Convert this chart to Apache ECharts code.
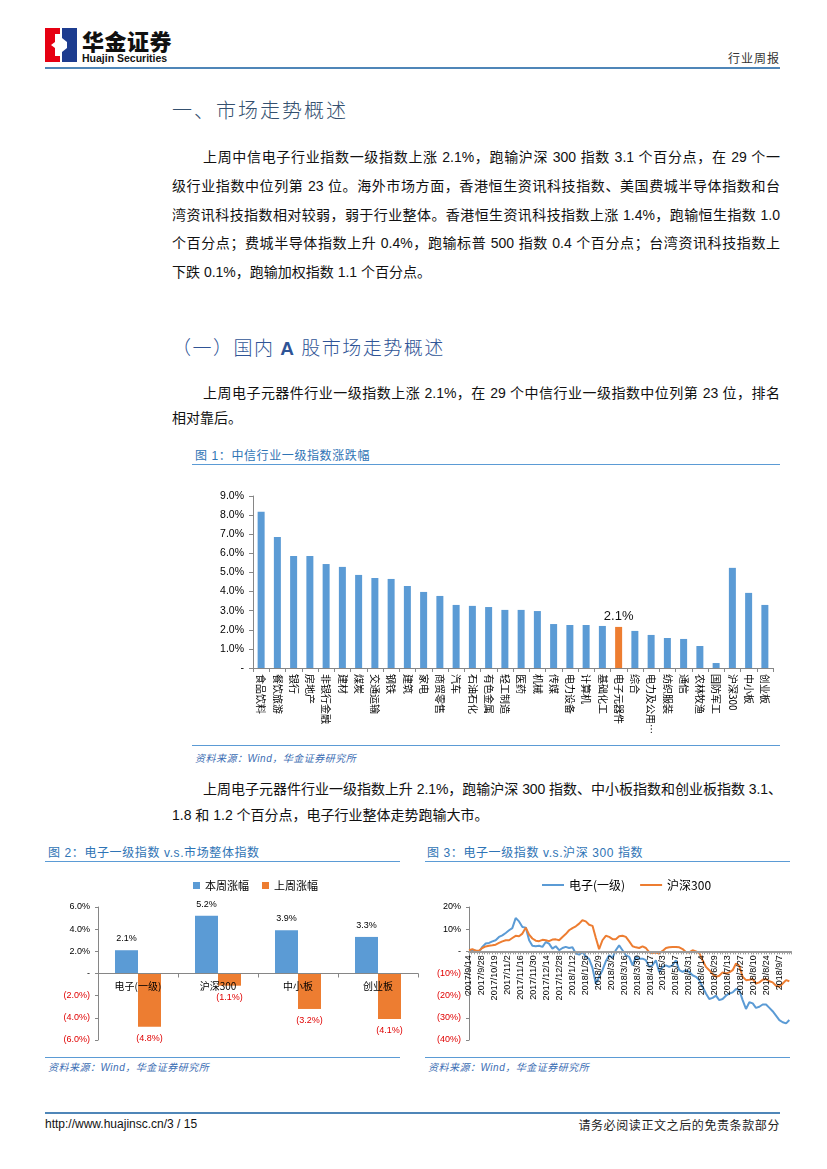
<!DOCTYPE html>
<html><head><meta charset="utf-8">
<script src="https://cdn.jsdelivr.net/npm/echarts@6/dist/echarts.min.js"></script>
<style>
body{margin:0;background:#fff;}
#page{position:relative;width:827px;height:1169px;overflow:hidden;font-family:"Liberation Sans","Noto Sans CJK SC",sans-serif;color:#111;background:#fff;}
.abs{position:absolute;white-space:nowrap;}
.ln{position:absolute;font-size:14px;height:20px;line-height:20px;text-align:justify;text-align-last:justify;color:#111;}
.ln.last{text-align:left;text-align-last:left;}
.ft{position:absolute;font-size:12px;color:#2F74B5;letter-spacing:0.6px;white-space:nowrap;}
.src{position:absolute;font-size:10px;color:#3B6DB3;font-style:italic;white-space:nowrap;letter-spacing:0.5px;}
.rule{position:absolute;height:0;border-top:1.5px solid #5B9BD5;}
.chart{position:absolute;}
</style></head>
<body><div id="page">

<!-- header -->
<svg class="abs" style="left:45px;top:28px" width="32" height="34" viewBox="0 0 32 34">
  <rect x="0" y="0" width="15" height="34" fill="#E60012"/>
  <rect x="17" y="0" width="15" height="34" fill="#1D3C8F"/>
  <polygon points="10,6 15,6 15,28 10,28 10,20 6,17 10,14" fill="#fff"/>
  <polygon points="17,10 22,14 22,20 17,24" fill="#fff"/>
</svg>
<div class="abs" style="left:82px;top:28px;height:24px;line-height:24px;font-size:22px;font-weight:900;font-family:'Noto Sans CJK SC';color:#111;letter-spacing:0.5px">华金证券</div>
<div class="abs" style="left:82px;top:52px;height:12px;line-height:12px;font-size:10.5px;font-weight:bold;color:#111">Huajin Securities</div>
<div class="abs" style="right:47px;top:49px;font-size:12px;color:#333;font-family:'Noto Sans CJK SC';letter-spacing:1px">行业周报</div>
<div class="rule" style="left:45px;top:67px;width:735px;border-top:2px solid #4F86B8"></div>

<!-- section 1 -->
<div class="abs" style="left:172px;top:95px;font-size:20px;letter-spacing:2px;color:#34506F;font-family:'Noto Sans CJK SC';font-weight:300">一、市场走势概述</div>

<div class="ln" style="left:203px;top:147px;width:577px">上周中信电子行业指数一级指数上涨 2.1%，跑输沪深 300 指数 3.1 个百分点，在 29 个一</div>
<div class="ln" style="left:172px;top:176px;width:608px">级行业指数中位列第 23 位。海外市场方面，香港恒生资讯科技指数、美国费城半导体指数和台</div>
<div class="ln" style="left:172px;top:205px;width:608px">湾资讯科技指数相对较弱，弱于行业整体。香港恒生资讯科技指数上涨 1.4%，跑输恒生指数 1.0</div>
<div class="ln" style="left:172px;top:233px;width:608px">个百分点；费城半导体指数上升 0.4%，跑输标普 500 指数 0.4 个百分点；台湾资讯科技指数上</div>
<div class="ln last" style="left:172px;top:262px;width:608px">下跌 0.1%，跑输加权指数 1.1 个百分点。</div>

<div class="abs" style="left:172px;top:333px;font-size:19px;letter-spacing:1.5px;color:#2F5496;font-family:'Noto Sans CJK SC';font-weight:300">（一）国内 <span style="font-family:'Liberation Sans';font-weight:bold">A</span> 股市场走势概述</div>

<div class="ln" style="left:203px;top:383px;width:577px">上周电子元器件行业一级指数上涨 2.1%，在 29 个中信行业一级指数中位列第 23 位，排名</div>
<div class="ln last" style="left:172px;top:408px;width:608px">相对靠后。</div>

<!-- figure 1 -->
<div class="ft" style="left:195px;top:446px">图 1：中信行业一级指数涨跌幅</div>
<div class="rule" style="left:192px;top:464px;width:588px"></div>
<div id="c1" class="chart" style="left:190px;top:470px;width:600px;height:275px"></div>
<div class="rule" style="left:192px;top:745px;width:588px"></div>
<div class="src" style="left:195px;top:750px">资料来源：Wind，华金证券研究所</div>

<div class="ln" style="left:203px;top:779px;width:579px">上周电子元器件行业一级指数上升 2.1%，跑输沪深 300 指数、中小板指数和创业板指数 3.1、</div>
<div class="ln last" style="left:172px;top:805px;width:608px">1.8 和 1.2 个百分点，电子行业整体走势跑输大市。</div>

<!-- figure 2 & 3 -->
<div class="ft" style="left:48px;top:843px">图 2：电子一级指数 v.s.市场整体指数</div>
<div class="rule" style="left:45px;top:861px;width:355px"></div>
<div class="ft" style="left:427px;top:843px">图 3：电子一级指数 v.s.沪深 300 指数</div>
<div class="rule" style="left:425px;top:861px;width:365px"></div>
<div id="c2" class="chart" style="left:40px;top:865px;width:385px;height:192px"></div>
<div id="c3" class="chart" style="left:425px;top:865px;width:370px;height:192px"></div>
<div class="rule" style="left:45px;top:1057px;width:355px"></div>
<div class="rule" style="left:425px;top:1057px;width:365px"></div>
<div class="src" style="left:48px;top:1059px">资料来源：Wind，华金证券研究所</div>
<div class="src" style="left:428px;top:1059px">资料来源：Wind，华金证券研究所</div>

<!-- footer -->
<div class="rule" style="left:45px;top:1112px;width:735px;border-top:2px solid #4F86B8"></div>
<div class="abs" style="left:45px;top:1117px;font-size:12px;color:#111">http://www.huajinsc.cn/3 / 15</div>
<div class="abs" style="right:47px;top:1116px;font-size:12px;color:#222;letter-spacing:0.6px;font-family:'Noto Sans CJK SC'">请务必阅读正文之后的免责条款部分</div>

</div>
<script>
// fit each justified line on one row
document.querySelectorAll('.ln').forEach(el => {
  el.style.whiteSpace = 'nowrap';
  let ls = 0;
  while (el.scrollWidth > el.clientWidth && ls > -2) { ls -= 0.1; el.style.letterSpacing = ls.toFixed(2) + 'px'; }
  el.style.whiteSpace = 'normal';
});

// ---------- Figure 1 data ----------
const industries = ['食品饮料','餐饮旅游','银行','房地产','非银行金融','建材','煤炭','交通运输','钢铁','建筑','家电','商贸零售','汽车','石油石化','有色金属','轻工制造','医药','机械','传媒','电力设备','计算机','基础化工','电子元器件','综合','电力及公用事业','纺织服装','通信','农林牧渔','国防军工','沪深300','中小板','创业板'];
const industryChange = [8.17,6.86,5.86,5.86,5.44,5.29,4.87,4.71,4.66,4.29,3.98,3.77,3.30,3.25,3.19,3.04,3.04,2.98,2.30,2.25,2.25,2.20,2.15,1.94,1.73,1.57,1.52,1.15,0.26,5.24,3.93,3.30];
const highlightIndustry = '电子元器件';
const fig1Ticks = [0,1,2,3,4,5,6,7,8,9];

// ---------- Figure 2 data ----------
const marketCats = ['电子(一级)','沪深300','中小板','创业板'];
const thisWeek = [2.1,5.2,3.9,3.3];
const lastWeek = [-4.8,-1.1,-3.2,-4.1];

// ---------- Figure 3 data ----------
const dateLabels = ['2017/9/14','2017/9/28','2017/10/19','2017/11/2','2017/11/16','2017/11/30','2017/12/14','2017/12/28','2018/1/12','2018/1/26','2018/2/9','2018/3/2','2018/3/16','2018/3/30','2018/4/17','2018/5/3','2018/5/17','2018/5/31','2018/6/14','2018/6/29','2018/7/13','2018/7/27','2018/8/10','2018/8/24','2018/9/7'];
const tradingDay = [0,2.6,5.2,7.7,10.3,12.9,15.5,18.1,20.6,23.2,25.8,28.4,31.0,33.5,36.1,38.7,41.3,43.9,46.5,49.0,51.6,54.2,56.8,59.4,61.9,64.5,67.1,69.7,72.3,74.8,77.4,80.0,82.6,85.2,87.7,90.3,92.9,95.5,98.1,100.6,103.2,105.8,108.4,111.0,113.5,116.1,118.7,121.3,123.9,126.5,129.0,131.6,134.2,136.8,139.4,141.9,144.5,147.1,149.7,152.3,154.8,157.4,160.0,162.6,165.2,167.7,170.3,172.9,175.5,178.1,180.6,183.2,185.8,188.4,191.0,193.5,196.1,198.7,201.3,203.9,206.5,209.0,211.6,214.2,216.8,219.4,221.9,224.5,227.1,229.7,232.3,234.8,237.4,240.0,242.6,245.2,247.7];
const elecIndex = [0.5,0.6,0.3,-0.3,2.0,3.5,3.8,4.5,5.0,6.5,7.2,8.3,9.5,10.5,15.0,13.5,11.0,10.7,5.0,2.5,2.3,2.5,2.0,4.2,3.5,1.2,2.3,0.5,1.5,2.0,1.5,1.8,-1.0,-1.5,-0.3,-2.3,-3.5,-7.5,-14.6,-11.5,-8.5,-4.5,-1.8,-3.0,0.5,2.7,0.5,-1.8,-2.5,-6.3,-2.5,-3.3,-3.3,-4.0,-7.0,-6.3,-4.0,-9.3,-7.0,-6.3,-7.0,-6.3,-4.0,-8.5,-9.3,-8.5,-9.3,-10.8,-11.5,-13.0,-16.0,-19.0,-21.5,-21.0,-20.0,-22.0,-21.5,-20.0,-19.0,-18.5,-17.0,-17.5,-22.0,-26.0,-23.0,-23.5,-25.5,-25.0,-24.0,-24.0,-25.5,-27.0,-29.0,-31.0,-32.0,-32.5,-31.0];
const hs300Index = [0.5,1.0,0.3,0.3,1.5,2.2,2.5,2.7,3.0,3.8,4.5,5.0,5.0,6.0,7.0,6.8,8.0,10.7,7.5,5.8,4.8,4.6,5.2,5.0,4.6,5.3,5.4,5.0,6.5,7.8,9.5,10.5,11.3,12.5,14.0,13.5,12.0,11.5,6.0,1.0,5.0,7.0,6.5,5.5,5.5,6.8,7.0,6.5,4.5,2.3,1.8,1.5,2.2,1.5,-0.5,-0.8,-0.5,-1.0,0.2,1.5,1.8,2.0,2.0,1.8,1.0,-0.3,-0.5,0.5,0.0,-0.8,-4.0,-7.0,-8.5,-10.3,-11.5,-11.0,-9.5,-10.0,-9.5,-8.5,-5.5,-6.5,-11.5,-13.0,-12.8,-12.5,-14.5,-14.0,-12.8,-12.5,-13.5,-14.0,-15.5,-16.0,-14.5,-13.0,-13.5];

const BLUE = '#5B9BD5', ORANGE = '#ED7D31', AXIS = '#868686';
const LATIN = 'Arial, Liberation Sans, sans-serif', CJK = 'Noto Sans CJK SC';
const pctNeg = v => v === 0 ? '-' : (v < 0 ? '(' + (-v).toFixed(1) + '%)' : v.toFixed(1) + '%');

// ---------- Chart 1 ----------
const c1 = echarts.init(document.getElementById('c1'));
c1.setOption({
  animation: false,
  grid: {left: 63, right: 17, top: 26, bottom: 77, containLabel: false, outerBoundsMode: 'none'},
  xAxis: {
    type: 'category', data: industries,
    axisLine: {show: true, lineStyle: {color: AXIS, width: 1}},
    axisTick: {show: true, length: 4, interval: 0, lineStyle: {color: AXIS}},
    axisLabel: {interval: 0, rotate: -90, fontSize: 10, color: '#000', fontFamily: CJK, margin: 6,
      width: 62, overflow: 'truncate', ellipsis: '…'},
    splitLine: {show: false}
  },
  yAxis: {
    type: 'value', min: fig1Ticks[0], max: fig1Ticks[fig1Ticks.length - 1], interval: 1,
    axisLine: {show: true, lineStyle: {color: AXIS}},
    axisTick: {show: true, length: 4, lineStyle: {color: AXIS}},
    axisLabel: {fontSize: 10.5, color: '#000', fontFamily: LATIN, margin: 9,
      formatter: v => v === 0 ? '-' : v.toFixed(1) + '%'},
    splitLine: {show: false}
  },
  series: [{
    type: 'bar', barWidth: 7,
    data: industryChange.map((v, i) => ({
      value: v,
      itemStyle: {color: industries[i] === highlightIndustry ? ORANGE : BLUE},
      label: {show: industries[i] === highlightIndustry}
    })),
    label: {position: 'top', distance: 4, fontSize: 13, color: '#111', fontFamily: LATIN,
      formatter: p => (Math.floor(p.value * 10) / 10).toFixed(1) + '%'}
  }]
});

// ---------- Chart 2 ----------
const c2 = echarts.init(document.getElementById('c2'));
const c2Top = 42, c2H = 133, c2Bottom = 192 - c2Top - c2H;
c2.setOption({
  animation: false,
  legend: {left: 148, top: 10, icon: 'rect', itemWidth: 7, itemHeight: 7, itemGap: 13,
    textStyle: {fontSize: 11, color: '#000', fontFamily: CJK}, data: ['本周涨幅', '上周涨幅']},
  grid: {left: 58, right: 7, top: c2Top, bottom: c2Bottom, containLabel: false, outerBoundsMode: 'none'},
  xAxis: {
    type: 'category', data: marketCats, z: 10,
    offset: -c2H / 2,
    axisLine: {show: true, onZero: false, lineStyle: {color: AXIS}},
    axisTick: {show: true, length: 4, lineStyle: {color: AXIS}},
    axisLabel: {fontSize: 10, color: '#000', fontFamily: CJK, margin: 8}
  },
  yAxis: {
    type: 'value', min: -6, max: 6, interval: 2,
    axisLine: {show: true, lineStyle: {color: AXIS}},
    axisTick: {show: true, length: 3, lineStyle: {color: AXIS}},
    axisLabel: {fontSize: 9, fontFamily: LATIN, margin: 8,
      color: v => (Number(v) < 0 ? '#E00000' : '#000'), formatter: pctNeg},
    splitLine: {show: false}
  },
  series: [
    {name: '本周涨幅', type: 'bar', barWidth: 23, barGap: '0%', data: thisWeek,
      itemStyle: {color: BLUE},
      label: {show: true, position: 'top', distance: 7, fontSize: 9, color: '#000', fontFamily: LATIN,
        formatter: p => p.value.toFixed(1) + '%'}},
    {name: '上周涨幅', type: 'bar', barWidth: 23, barGap: '0%', data: lastWeek,
      itemStyle: {color: ORANGE},
      label: {show: true, position: 'bottom', distance: 7, fontSize: 9, color: '#E00000', fontFamily: LATIN,
        formatter: p => '(' + (-p.value).toFixed(1) + '%)'}}
  ]
});

// ---------- Chart 3 ----------
const c3 = echarts.init(document.getElementById('c3'));
const lastDay = 249;
const c3Top = 42, c3H = 133, c3Bottom = 192 - c3Top - c3H;
const c3Min = -40, c3Max = 20;
c3.setOption({
  animation: false,
  legend: {left: 112, top: 9, icon: 'rect', itemWidth: 22, itemHeight: 2, itemGap: 15,
    textStyle: {fontSize: 12, color: '#000', fontFamily: CJK}, data: ['电子(一级)', '沪深300']},
  grid: {left: 44, right: 4, top: c3Top, bottom: c3Bottom, containLabel: false, outerBoundsMode: 'none'},
  xAxis: {
    type: 'value', min: 0, max: lastDay, interval: 10, z: 10,
    offset: -c3H * (0 - c3Min) / (c3Max - c3Min),
    axisLine: {show: true, onZero: false, lineStyle: {color: '#9A9A9A', width: 2}},
    axisTick: {show: true, length: 3, lineStyle: {color: '#9A9A9A'}},
    minorTick: {show: true, splitNumber: 5, length: 3, lineStyle: {color: '#9A9A9A'}},
    axisLabel: {rotate: 90, fontSize: 9, color: '#000', fontFamily: LATIN, margin: 4,
      showMaxLabel: false,
      formatter: v => (v % 10 === 0 && dateLabels[v / 10]) ? dateLabels[v / 10] : ''},
    splitLine: {show: false}
  },
  yAxis: {
    type: 'value', min: c3Min, max: c3Max, interval: 10,
    axisLine: {show: true, lineStyle: {color: AXIS}},
    axisTick: {show: true, length: 3, lineStyle: {color: AXIS}},
    axisLabel: {fontSize: 9, fontFamily: LATIN, margin: 8,
      color: v => (Number(v) < 0 ? '#E00000' : '#000'),
      formatter: v => v === 0 ? '-' : (v < 0 ? '(' + (-v) + '%)' : v + '%')},
    splitLine: {show: false}
  },
  series: [
    {name: '电子(一级)', type: 'line', showSymbol: false, symbol: 'none',
      lineStyle: {color: BLUE, width: 2}, itemStyle: {color: BLUE},
      data: tradingDay.map((d, i) => [d, elecIndex[i]])},
    {name: '沪深300', type: 'line', showSymbol: false, symbol: 'none',
      lineStyle: {color: ORANGE, width: 2}, itemStyle: {color: ORANGE},
      data: tradingDay.map((d, i) => [d, hs300Index[i]])}
  ]
});
</script>
</body></html>
